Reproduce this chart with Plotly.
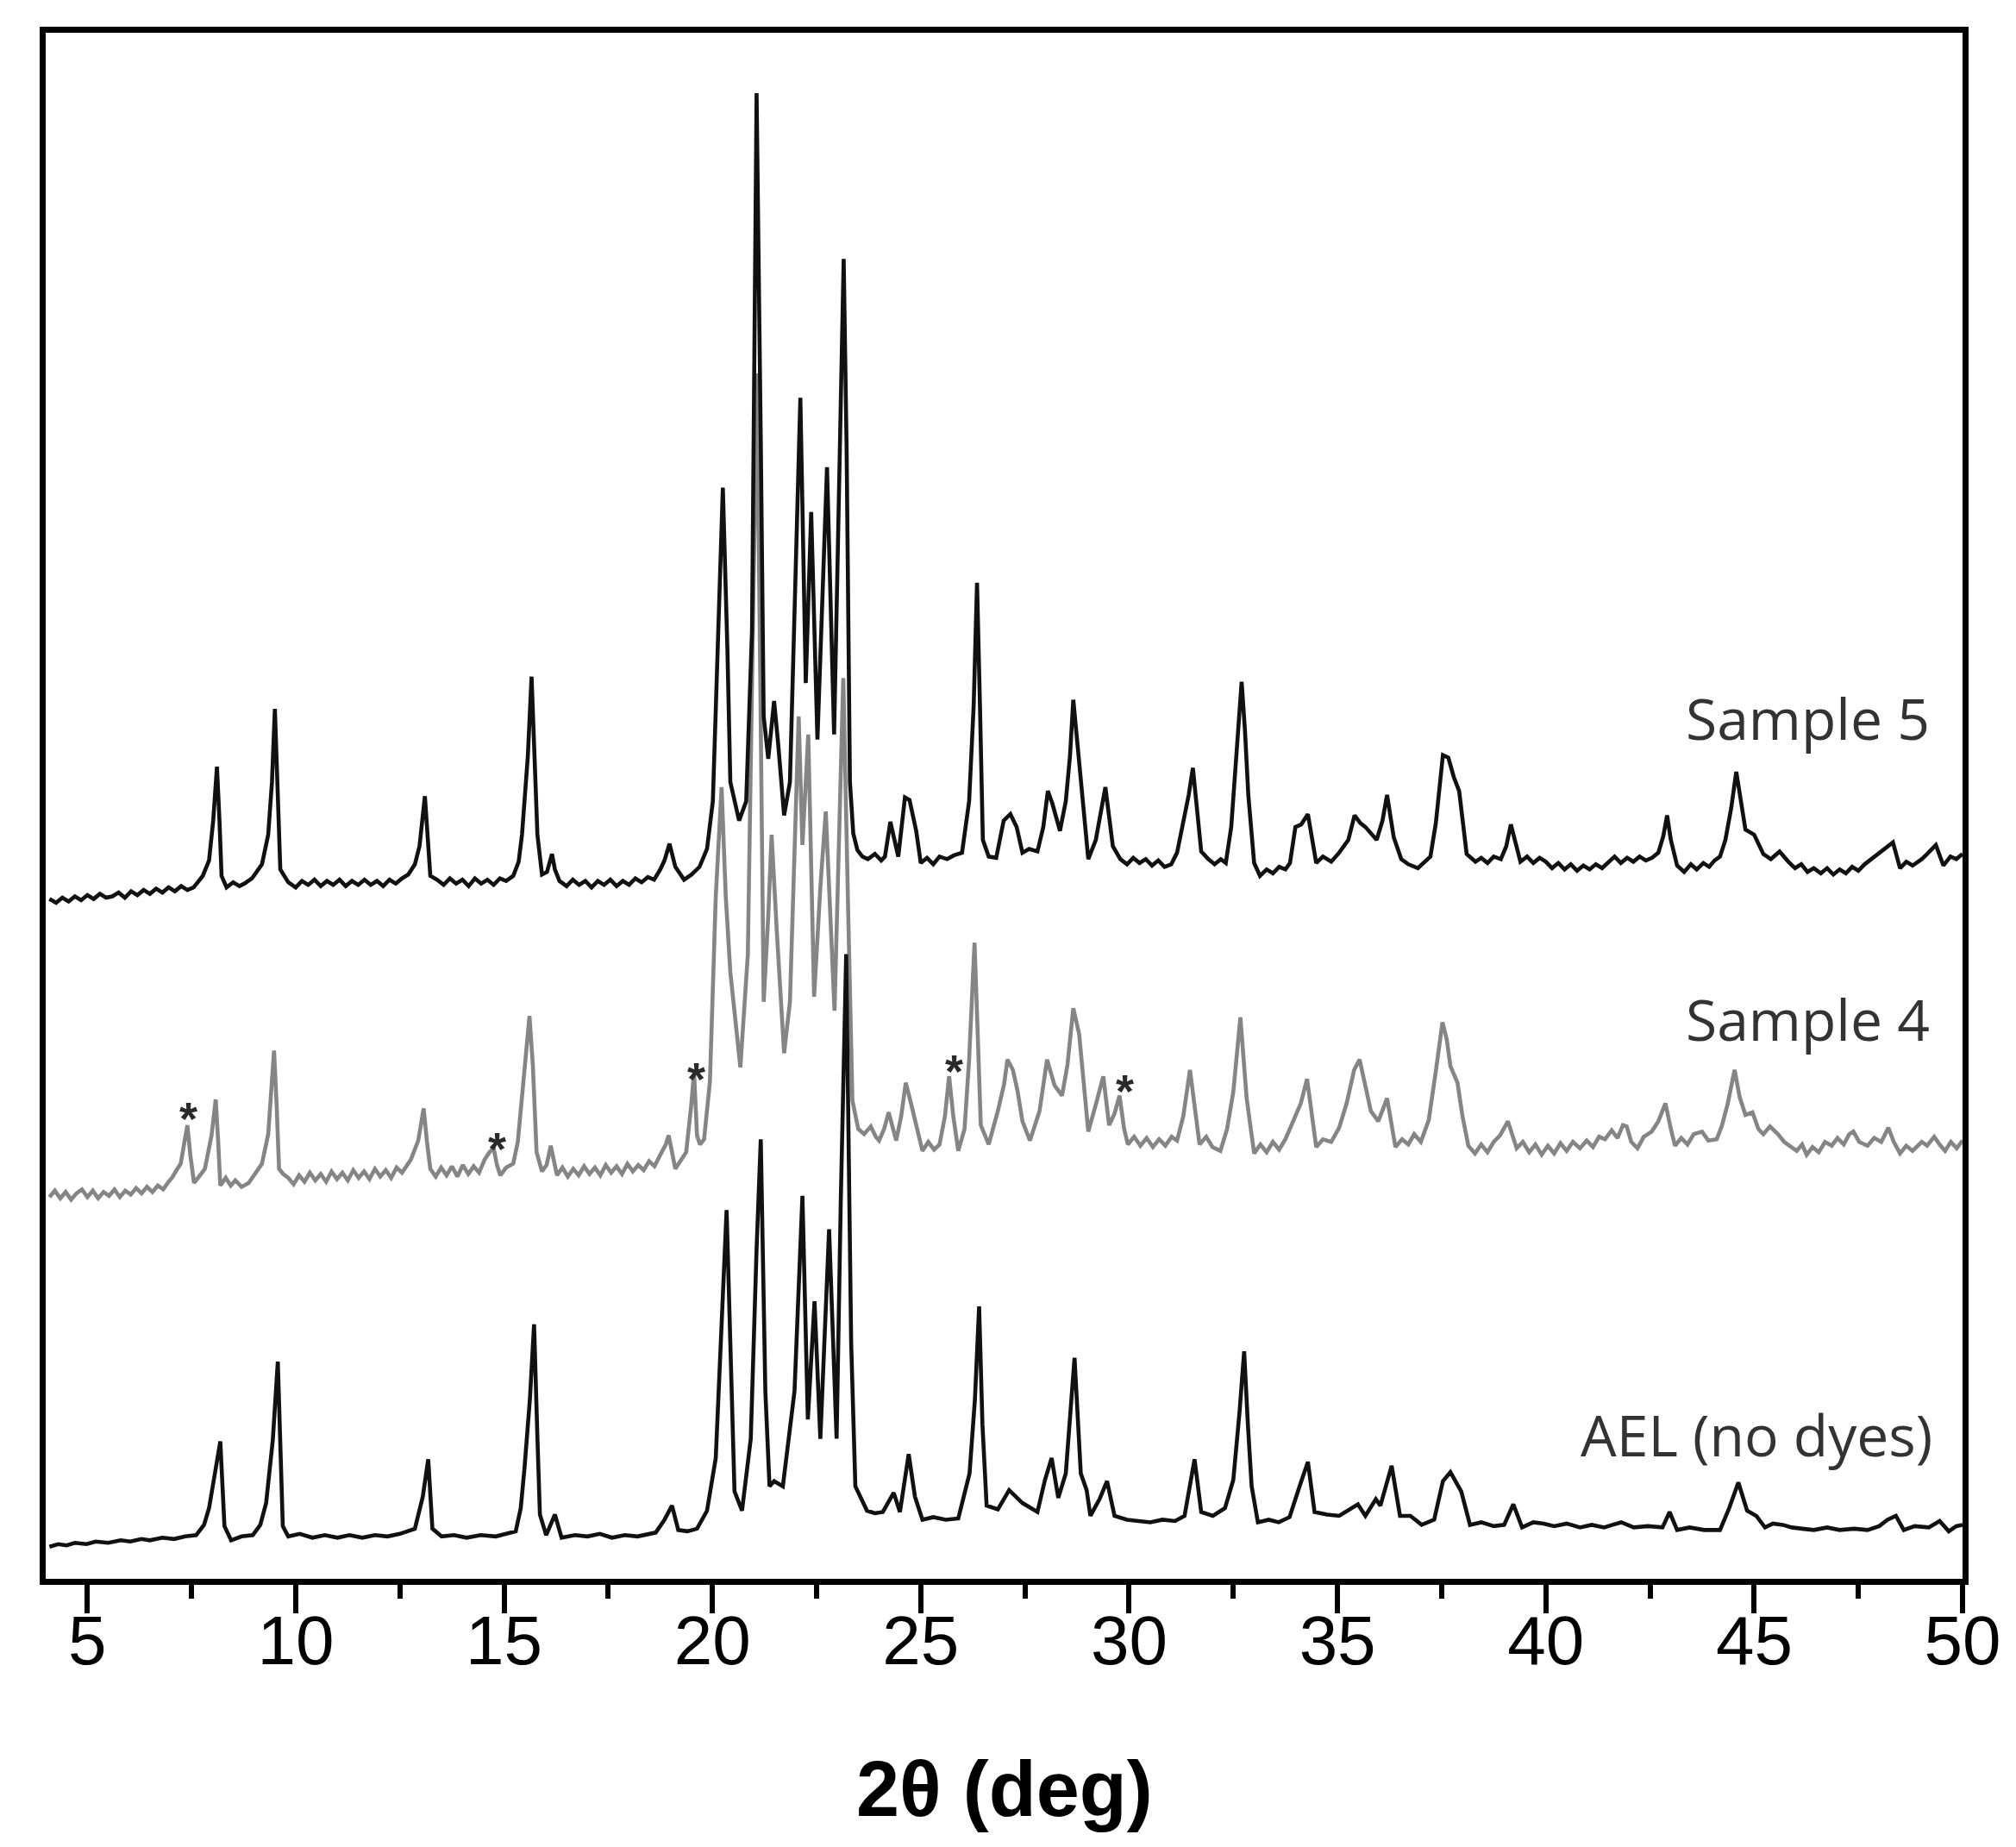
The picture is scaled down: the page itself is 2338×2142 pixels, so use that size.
import plotly.graph_objects as go

# (2-theta in deg, stacked intensity in arb. units)
sample5 = [(4.09, 529), (4.25, 526), (4.40, 530), (4.55, 527), (4.70, 531), (4.85, 528), (5.00, 532),
           (5.15, 529), (5.30, 533), (5.45, 530), (5.60, 531), (5.75, 534), (5.90, 530), (6.05, 535),
           (6.20, 532), (6.35, 536), (6.50, 533), (6.65, 537), (6.80, 534), (6.95, 538), (7.10, 535),
           (7.25, 539), (7.40, 536), (7.55, 538), (7.77, 547), (7.92, 559), (8.02, 590), (8.11, 632),
           (8.17, 590), (8.22, 547), (8.34, 538), (8.50, 542), (8.65, 539), (8.77, 541), (8.95, 545),
           (9.19, 556), (9.34, 579), (9.43, 620), (9.50, 677), (9.56, 620), (9.63, 552), (9.82, 542),
           (10.00, 538), (10.15, 543), (10.30, 540), (10.45, 544), (10.60, 539), (10.75, 543),
           (10.90, 540), (11.05, 544), (11.20, 539), (11.35, 543), (11.50, 540), (11.65, 544),
           (11.80, 540), (11.95, 543), (12.10, 539), (12.25, 544), (12.40, 541), (12.55, 545),
           (12.70, 548), (12.86, 556), (12.97, 570), (13.10, 609), (13.17, 575), (13.23, 547),
           (13.39, 544), (13.55, 540), (13.70, 545), (13.85, 541), (14.00, 544), (14.15, 539),
           (14.30, 545), (14.45, 541), (14.60, 544), (14.75, 540), (14.90, 545), (15.05, 543),
           (15.22, 547), (15.35, 558), (15.43, 579), (15.57, 640), (15.66, 702), (15.74, 640),
           (15.80, 579), (15.91, 548), (16.03, 550), (16.15, 564), (16.22, 552), (16.33, 543),
           (16.50, 539), (16.65, 544), (16.80, 540), (16.95, 543), (17.10, 538), (17.25, 543),
           (17.40, 540), (17.55, 544), (17.70, 539), (17.85, 543), (18.00, 540), (18.15, 545),
           (18.30, 542), (18.45, 546), (18.60, 544), (18.75, 552), (18.85, 559), (18.97, 572),
           (19.11, 554), (19.32, 544), (19.50, 548), (19.69, 554), (19.87, 568), (20.01, 605),
           (20.15, 738), (20.25, 849), (20.36, 723), (20.43, 620), (20.64, 590), (20.81, 605),
           (20.95, 738), (21.06, 1156), (21.16, 886), (21.23, 671), (21.34, 638), (21.48, 683),
           (21.58, 649), (21.72, 594), (21.86, 620), (22.00, 775), (22.11, 919), (22.24, 697),
           (22.37, 830), (22.52, 653), (22.75, 865), (22.92, 657), (23.15, 1027), (23.22, 880),
           (23.30, 620), (23.38, 580), (23.48, 567), (23.60, 562), (23.73, 560), (23.90, 564),
           (24.05, 559), (24.14, 562), (24.27, 589), (24.46, 562), (24.62, 608), (24.73, 606),
           (24.89, 582), (25.00, 557), (25.15, 561), (25.30, 556), (25.45, 562), (25.63, 560),
           (25.80, 563), (25.99, 565), (26.16, 605), (26.27, 680), (26.35, 775), (26.42, 680),
           (26.49, 575), (26.63, 562), (26.81, 561), (26.99, 590), (27.15, 595), (27.30, 585),
           (27.44, 565), (27.60, 568), (27.80, 566), (27.94, 585), (28.05, 613), (28.16, 603),
           (28.34, 582), (28.48, 605), (28.58, 640), (28.66, 684), (28.73, 660), (28.81, 635),
           (29.02, 560), (29.20, 575), (29.43, 616), (29.61, 570), (29.79, 560), (29.95, 556),
           (30.10, 561), (30.25, 557), (30.40, 560), (30.55, 555), (30.70, 559), (30.85, 554),
           (31.01, 556), (31.15, 565), (31.28, 585), (31.43, 610), (31.53, 631), (31.62, 600),
           (31.73, 566), (31.90, 560), (32.05, 556), (32.20, 560), (32.32, 557), (32.45, 585),
           (32.55, 630), (32.70, 698), (32.78, 660), (32.86, 610), (33.00, 557), (33.14, 547),
           (33.30, 552), (33.45, 549), (33.60, 554), (33.75, 552), (33.86, 557), (33.99, 585),
           (34.13, 587), (34.29, 595), (34.49, 557), (34.65, 562), (34.85, 558), (35.04, 565),
           (35.26, 575), (35.41, 594), (35.55, 588), (35.67, 585), (35.94, 575), (36.08, 590),
           (36.19, 610), (36.35, 577), (36.53, 560), (36.70, 556), (36.93, 553), (37.10, 558),
           (37.23, 562), (37.36, 588), (37.45, 620), (37.53, 641), (37.66, 639), (37.79, 624),
           (37.92, 613), (38.00, 590), (38.10, 564), (38.31, 558), (38.45, 561), (38.60, 557),
           (38.75, 562), (38.92, 560), (39.05, 570), (39.16, 587), (39.25, 575), (39.39, 558),
           (39.55, 562), (39.70, 557), (39.85, 561), (40.00, 558), (40.15, 553), (40.30, 557),
           (40.45, 552), (40.60, 556), (40.75, 551), (40.90, 555), (41.05, 552), (41.20, 556),
           (41.35, 553), (41.50, 558), (41.65, 562), (41.80, 557), (41.95, 561), (42.10, 558),
           (42.25, 562), (42.40, 559), (42.55, 561), (42.70, 565), (42.82, 578), (42.91, 594),
           (43.00, 575), (43.15, 555), (43.32, 550), (43.48, 556), (43.62, 552), (43.78, 557),
           (43.92, 554), (44.05, 559), (44.18, 562), (44.31, 575), (44.45, 600), (44.57, 628),
           (44.68, 605), (44.79, 583), (45.00, 579), (45.22, 564), (45.40, 560), (45.61, 566),
           (45.82, 558), (45.98, 553), (46.13, 556), (46.28, 550), (46.43, 553), (46.60, 549),
           (46.75, 553), (46.90, 548), (47.05, 552), (47.20, 549), (47.35, 554), (47.50, 551),
           (47.65, 556), (47.81, 560), (47.96, 563), (48.16, 568), (48.33, 573), (48.50, 553),
           (48.65, 558), (48.80, 555), (49.02, 560), (49.15, 564), (49.36, 571), (49.54, 555),
           (49.71, 562), (49.85, 560), (50.00, 564)]

sample4 = [(4.09, 297), (4.22, 302), (4.35, 296), (4.48, 301), (4.61, 295), (4.74, 300), (4.87, 303),
           (5.00, 297), (5.13, 302), (5.26, 296), (5.39, 301), (5.52, 298), (5.65, 303), (5.78, 297),
           (5.91, 302), (6.04, 299), (6.17, 304), (6.30, 300), (6.43, 305), (6.56, 301), (6.69, 306),
           (6.82, 303), (6.95, 309), (7.03, 312), (7.14, 318), (7.24, 323), (7.33, 340), (7.40, 353),
           (7.47, 330), (7.56, 308), (7.68, 313), (7.82, 319), (7.98, 345), (8.08, 373), (8.14, 340),
           (8.19, 306), (8.32, 312), (8.44, 306), (8.55, 310), (8.70, 305), (8.87, 308), (9.03, 315),
           (9.19, 323), (9.34, 346), (9.42, 380), (9.48, 411), (9.54, 370), (9.60, 319), (9.70, 315),
           (9.82, 312), (9.95, 307), (10.08, 314), (10.21, 309), (10.34, 316), (10.47, 310),
           (10.60, 315), (10.73, 309), (10.86, 317), (10.99, 311), (11.12, 316), (11.25, 310),
           (11.38, 318), (11.51, 312), (11.64, 317), (11.77, 311), (11.90, 319), (12.03, 313),
           (12.16, 318), (12.29, 312), (12.42, 320), (12.55, 316), (12.68, 323), (12.76, 326),
           (12.94, 341), (13.07, 366), (13.15, 340), (13.23, 319), (13.36, 313), (13.49, 320),
           (13.62, 314), (13.75, 321), (13.88, 313), (14.01, 322), (14.14, 315), (14.27, 321),
           (14.40, 316), (14.53, 326), (14.65, 332), (14.75, 335), (14.83, 322), (14.91, 314),
           (15.05, 320), (15.22, 323), (15.33, 340), (15.43, 373), (15.53, 410), (15.61, 438),
           (15.69, 400), (15.78, 332), (15.91, 317), (16.02, 322), (16.12, 337), (16.27, 314),
           (16.40, 320), (16.53, 313), (16.66, 319), (16.79, 314), (16.92, 321), (17.05, 315),
           (17.18, 320), (17.31, 314), (17.44, 322), (17.57, 316), (17.70, 321), (17.83, 315),
           (17.96, 323), (18.09, 317), (18.22, 322), (18.35, 318), (18.48, 325), (18.61, 321),
           (18.75, 330), (18.88, 338), (18.95, 345), (19.03, 330), (19.11, 319), (19.25, 326),
           (19.37, 332), (19.49, 368), (19.56, 394), (19.63, 345), (19.70, 338), (19.80, 342),
           (19.94, 387), (20.08, 531), (20.22, 616), (20.32, 531), (20.43, 472), (20.67, 398),
           (20.85, 486), (20.97, 738), (21.07, 938), (21.16, 664), (21.23, 449), (21.34, 516),
           (21.42, 579), (21.55, 501), (21.72, 409), (21.86, 449), (22.00, 612), (22.07, 671),
           (22.16, 571), (22.30, 657), (22.44, 453), (22.59, 538), (22.72, 597), (22.93, 442),
           (23.05, 590), (23.14, 701), (23.26, 516), (23.36, 372), (23.50, 350), (23.64, 346),
           (23.80, 352), (23.92, 344), (24.00, 341), (24.12, 350), (24.23, 363), (24.41, 341),
           (24.53, 360), (24.64, 386), (24.75, 372), (24.86, 358), (25.04, 333), (25.18, 340),
           (25.32, 334), (25.45, 338), (25.58, 360), (25.68, 391), (25.78, 360), (25.90, 333),
           (26.05, 350), (26.16, 404), (26.23, 450), (26.29, 495), (26.36, 430), (26.44, 353),
           (26.63, 338), (26.85, 364), (27.00, 385), (27.08, 404), (27.21, 396), (27.32, 380),
           (27.44, 356), (27.62, 341), (27.85, 364), (28.03, 404), (28.21, 384), (28.39, 376),
           (28.52, 400), (28.66, 444), (28.80, 424), (28.92, 385), (29.02, 348), (29.20, 369),
           (29.38, 391), (29.52, 353), (29.65, 362), (29.77, 376), (29.88, 350), (29.97, 338),
           (30.12, 344), (30.27, 337), (30.42, 343), (30.57, 336), (30.72, 342), (30.87, 337),
           (31.02, 344), (31.15, 341), (31.30, 360), (31.46, 396), (31.58, 365), (31.69, 338),
           (31.85, 344), (32.00, 336), (32.19, 333), (32.35, 350), (32.50, 379), (32.67, 437),
           (32.82, 374), (33.00, 331), (33.15, 338), (33.30, 332), (33.45, 340), (33.60, 334),
           (33.75, 342), (33.95, 358), (34.12, 370), (34.27, 389), (34.38, 360), (34.49, 336),
           (34.65, 342), (34.85, 340), (35.04, 351), (35.22, 370), (35.40, 396), (35.53, 404),
           (35.66, 385), (35.80, 364), (35.98, 356), (36.19, 374), (36.39, 336), (36.55, 342),
           (36.70, 338), (36.84, 346), (37.00, 340), (37.19, 357), (37.36, 395), (37.52, 433),
           (37.62, 420), (37.71, 399), (37.88, 386), (38.00, 360), (38.14, 337), (38.30, 331),
           (38.45, 338), (38.60, 332), (38.75, 340), (38.90, 345), (39.09, 356), (39.30, 335),
           (39.45, 340), (39.60, 332), (39.75, 338), (39.90, 330), (40.05, 337), (40.20, 331),
           (40.35, 339), (40.50, 333), (40.65, 340), (40.82, 335), (40.98, 341), (41.13, 336),
           (41.28, 344), (41.42, 342), (41.58, 349), (41.72, 343), (41.85, 353), (41.94, 352),
           (42.05, 340), (42.20, 335), (42.35, 344), (42.54, 348), (42.70, 356), (42.87, 370),
           (43.00, 350), (43.10, 337), (43.25, 343), (43.40, 338), (43.55, 346), (43.75, 348),
           (43.90, 341), (44.10, 342), (44.22, 352), (44.36, 369), (44.53, 396), (44.65, 375),
           (44.79, 361), (44.96, 363), (45.10, 350), (45.22, 346), (45.38, 352), (45.57, 346),
           (45.72, 340), (45.88, 336), (46.02, 333), (46.15, 338), (46.26, 330), (46.40, 336),
           (46.55, 332), (46.70, 340), (46.86, 337), (47.00, 343), (47.15, 338), (47.28, 346),
           (47.38, 348), (47.52, 340), (47.72, 337), (47.88, 343), (48.05, 340), (48.22, 351),
           (48.35, 340), (48.50, 331), (48.65, 337), (48.80, 333), (49.02, 340), (49.15, 337),
           (49.32, 344), (49.45, 338), (49.58, 333), (49.72, 340), (49.86, 335), (50.00, 341)]

ael = [(4.09, 25), (4.30, 27), (4.50, 26), (4.70, 28), (4.98, 27), (5.20, 29), (5.50, 28), (5.80, 30),
       (6.03, 29), (6.30, 31), (6.50, 30), (6.80, 32), (7.08, 31), (7.35, 33), (7.61, 34), (7.80, 42),
       (7.92, 55), (8.08, 86), (8.19, 107), (8.29, 41), (8.45, 30), (8.70, 33), (8.97, 34), (9.15, 42),
       (9.29, 59), (9.45, 108), (9.57, 169), (9.69, 41), (9.82, 33), (10.10, 35), (10.40, 32),
       (10.70, 34), (11.00, 32), (11.29, 34), (11.60, 32), (11.90, 34), (12.20, 33), (12.50, 35),
       (12.86, 39), (13.05, 64), (13.18, 93), (13.28, 39), (13.50, 33), (13.80, 34), (14.10, 32),
       (14.44, 34), (14.80, 33), (15.05, 35), (15.28, 37), (15.40, 55), (15.49, 86), (15.62, 140),
       (15.72, 198), (15.80, 110), (15.86, 50), (16.01, 34), (16.22, 50), (16.38, 32), (16.70, 34),
       (17.00, 33), (17.30, 35), (17.59, 32), (17.90, 34), (18.20, 33), (18.50, 35), (18.64, 36),
       (18.85, 46), (19.03, 57), (19.18, 38), (19.40, 37), (19.63, 39), (19.87, 53), (20.08, 94),
       (20.22, 198), (20.34, 287), (20.43, 183), (20.53, 68), (20.71, 53), (20.92, 109),
       (21.06, 257), (21.16, 342), (21.27, 146), (21.37, 72), (21.48, 76), (21.69, 72), (21.97, 146),
       (22.16, 298), (22.29, 124), (22.45, 216), (22.59, 109), (22.80, 272), (22.98, 109),
       (23.08, 294), (23.21, 486), (23.33, 183), (23.43, 72), (23.71, 53), (23.90, 51), (24.09, 52),
       (24.35, 67), (24.50, 52), (24.71, 97), (24.86, 64), (25.04, 46), (25.30, 48), (25.60, 46),
       (25.90, 47), (26.17, 82), (26.30, 140), (26.40, 212), (26.48, 120), (26.58, 57), (26.85, 54),
       (27.12, 69), (27.44, 59), (27.80, 52), (27.98, 77), (28.14, 94), (28.30, 63), (28.48, 82),
       (28.69, 172), (28.84, 82), (28.98, 69), (29.07, 49), (29.29, 62), (29.47, 76), (29.65, 49),
       (29.95, 46), (30.25, 45), (30.51, 44), (30.80, 46), (31.10, 45), (31.33, 49), (31.57, 93),
       (31.73, 52), (32.01, 49), (32.30, 55), (32.50, 77), (32.65, 130), (32.76, 177), (32.85, 120),
       (32.94, 72), (33.09, 44), (33.35, 46), (33.59, 44), (33.85, 48), (34.09, 72), (34.29, 91),
       (34.45, 52), (34.75, 50), (35.04, 49), (35.49, 58), (35.67, 49), (35.92, 62), (36.03, 57),
       (36.30, 88), (36.50, 49), (36.75, 49), (37.02, 42), (37.32, 46), (37.53, 76), (37.71, 83),
       (37.97, 68), (38.18, 42), (38.45, 44), (38.75, 41), (39.00, 42), (39.22, 58), (39.43, 40),
       (39.70, 44), (39.95, 43), (40.20, 41), (40.50, 43), (40.82, 40), (41.10, 42), (41.40, 40),
       (41.60, 42), (41.81, 44), (42.11, 40), (42.45, 41), (42.80, 40), (42.97, 52), (43.15, 38),
       (43.45, 40), (43.80, 38), (44.18, 38), (44.40, 55), (44.62, 75), (44.83, 53), (45.05, 49),
       (45.26, 40), (45.45, 43), (45.69, 42), (45.90, 40), (46.15, 39), (46.43, 38), (46.75, 40),
       (47.05, 38), (47.40, 39), (47.72, 38), (48.00, 41), (48.20, 46), (48.40, 49), (48.59, 38),
       (48.85, 41), (49.19, 40), (49.45, 45), (49.67, 37), (49.85, 41), (50.00, 42)]

# curve labels (right-aligned) and impurity asterisks on Sample 4
label_text = ["Sample 5", "Sample 4", "AEL (no dyes)"]
label_x = [49.26, 49.26, 49.32]
label_y = [670, 436, 113]
star_x = [7.43, 14.83, 19.61, 25.80, 29.90]
star_y = [364, 341, 395, 401, 386]

fig = go.Figure()
# grey trace first so the black patterns sit on top of it
for name, pts, colour in [("Sample 4", sample4, "#858585"),
                          ("Sample 5", sample5, "#111111"),
                          ("AEL (no dyes)", ael, "#111111")]:
    fig.add_trace(go.Scatter(x=[p[0] for p in pts], y=[p[1] for p in pts], mode="lines",
                             line=dict(color=colour, width=4.6), name=name))

for t, x, y in zip(label_text, label_x, label_y):
    fig.add_annotation(x=x, y=y, text=t, showarrow=False, xanchor="right", yanchor="middle",
                       font=dict(family="Open Sans", size=66, color="#333333"))
for x, y in zip(star_x, star_y):
    fig.add_annotation(x=x, y=y, text="<b>*</b>", showarrow=False, xanchor="center", yanchor="middle",
                       yshift=-9, font=dict(family="Liberation Sans", size=54, color="#2a2a2a"))

fig.add_annotation(x=0.5, y=-0.136, xref="paper", yref="paper", text="<b>2θ (deg)</b>",
                   showarrow=False, xanchor="center", yanchor="middle",
                   font=dict(family="Liberation Sans", size=90, color="black"))

fig.update_xaxes(range=[4, 50], tick0=5, dtick=5, ticks="outside", ticklen=33, tickwidth=6,
                 tickcolor="black", showline=True, linewidth=7, linecolor="black", mirror=True,
                 showgrid=False, zeroline=False, ticklabelstandoff=-37,
                 tickfont=dict(family="Liberation Sans Narrow, Liberation Sans", size=80,
                               color="black"),
                 minor=dict(dtick=2.5, tick0=5, ticks="outside", ticklen=16, tickwidth=6,
                            tickcolor="black", showgrid=False))
fig.update_yaxes(range=[0, 1203], showticklabels=False, ticks="", showline=True, linewidth=7,
                 linecolor="black", mirror=True, showgrid=False, zeroline=False)

fig.update_layout(width=2338, height=2142, showlegend=False, plot_bgcolor="white",
                  paper_bgcolor="white", margin=dict(l=45, r=70, t=30, b=319))

fig.write_html("out.html")
